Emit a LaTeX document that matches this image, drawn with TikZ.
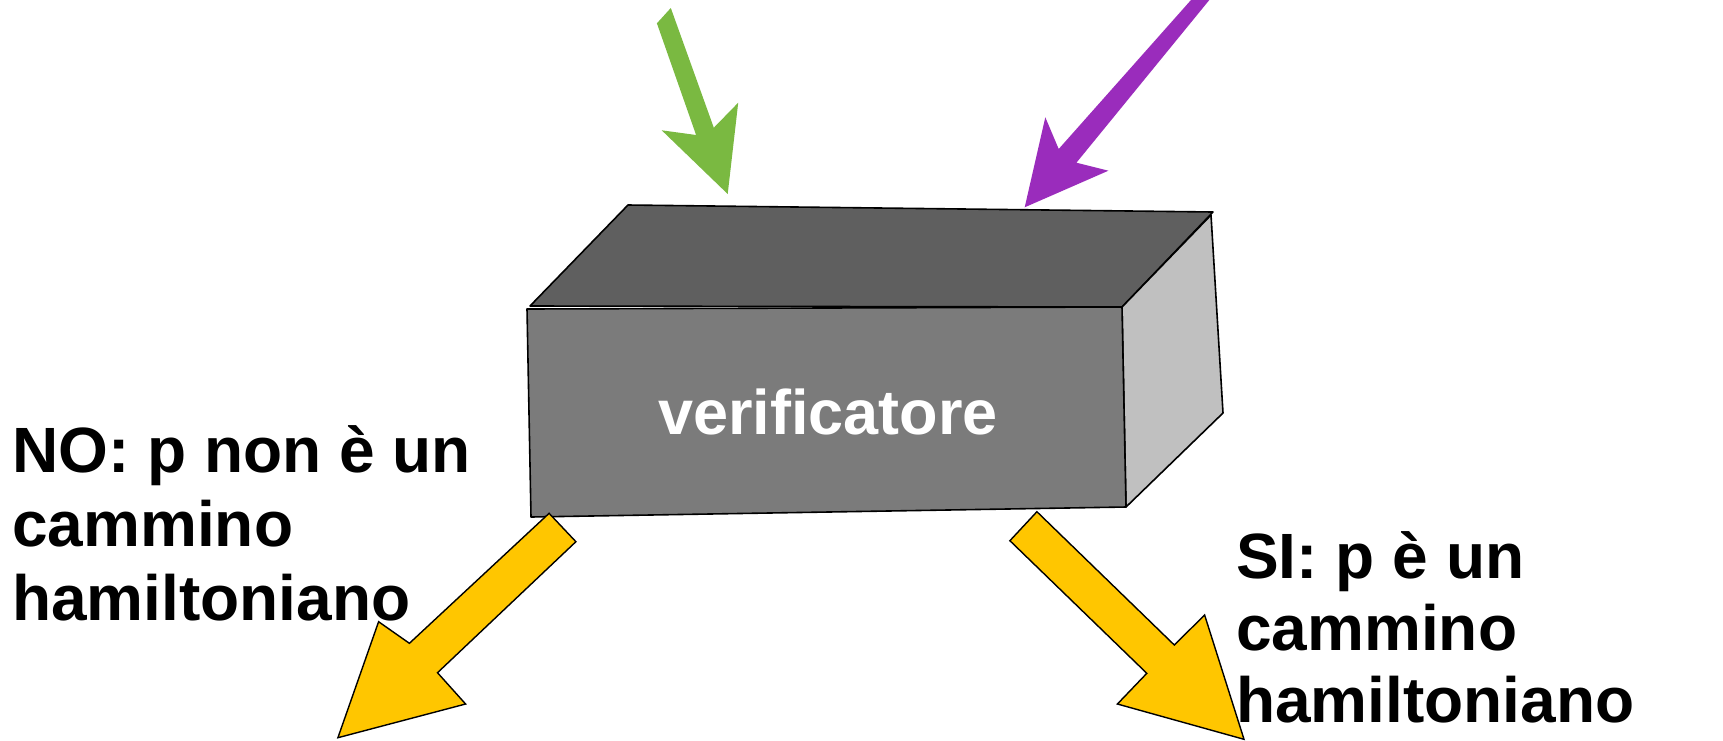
\documentclass[tikz,border=0pt]{standalone}
\usepackage{fontspec}
\setmainfont{Liberation Sans}
\definecolor{boxfront}{HTML}{7B7B7B}
\definecolor{boxtop}{HTML}{5F5F5F}
\definecolor{boxside}{HTML}{C0C0C0}
\definecolor{arrgreen}{HTML}{7AB941}
\definecolor{arrpurple}{HTML}{9A2CBC}
\definecolor{arryellow}{HTML}{FFC600}
\begin{document}
\begin{tikzpicture}[x=1pt,y=-1pt,
  face/.style={draw=black,line width=1.6pt,line join=round},
  blockarrow/.style={draw=black,line width=1.4pt,line join=miter,fill=arryellow},
  inarrow/.style={draw=none},
  lbl/.style={anchor=base west,inner sep=0pt,font=\fontsize{64}{73}\selectfont\bfseries,text=black},
  boxlbl/.style={anchor=base,inner sep=0pt,font=\fontsize{63}{73}\selectfont\bfseries,text=white}]
\useasboundingbox (0,0) rectangle (1723,740);
\fill[white] (0,0) rectangle (1723,740);
% box
\draw[face,fill=boxtop] (628,205) -- (1213,212) -- (1122,307) -- (530,306) -- cycle;
\draw[face,fill=boxside] (1122,307) -- (1211,215) -- (1223,413) -- (1126,507) -- cycle;
\draw[face,fill=boxfront] (527,309) -- (1122,307) -- (1126,507) -- (531,517) -- cycle;
\node[boxlbl] (verif) at (828,434) {verificatore};
% green input arrow
\fill[arrgreen] (670.8,8) -- (713.8,127.7) -- (738.2,102.7) -- (727.7,194) -- (661.7,130.3) -- (696.1,135) -- (656.9,23.3) -- cycle;
% purple input arrow
\fill[arrpurple] (1191,0) -- (1058.7,149) -- (1045.3,117.3) -- (1024.7,207.3) -- (1108.4,170.7) -- (1076.4,162.7) -- (1209.3,0) -- cycle;
% yellow output arrows
\draw[blockarrow] (549.1,513.3) -- (409.4,643.3) -- (378.6,621.7) -- (337.9,737.7) -- (465.6,704) -- (437.5,672.7) -- (575.9,541.7) -- cycle;
\draw[blockarrow] (1036.9,511.7) -- (1174.3,645) -- (1204.6,615) -- (1244,739.3) -- (1117.4,704) -- (1146.8,673.3) -- (1009.9,540.7) -- cycle;
% labels
\node[lbl] (no1) at (12,472) {NO: p non è un};
\node[lbl] (no2) at (12,546.5) {cammino};
\node[lbl] (no3) at (12,620.5) {hamiltoniano};
\node[lbl] (si1) at (1236,578.5) {SI: p è un};
\node[lbl] (si2) at (1236,650.5) {cammino};
\node[lbl] (si3) at (1236,722.5) {hamiltoniano};
\end{tikzpicture}
\end{document}
